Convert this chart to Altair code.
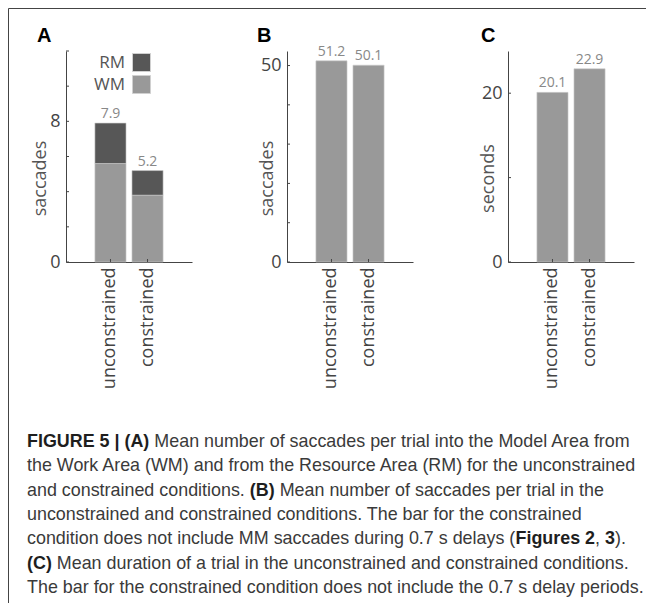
import altair as alt
import pandas as pd

# ---------------- data ----------------
conditions = ["unconstrained", "constrained"]
wm_saccades = [5.6, 3.8]      # panel A, from the Work Area (WM)
rm_saccades = [2.3, 1.4]      # panel A, from the Resource Area (RM)
all_saccades = [51.2, 50.1]   # panel B
trial_seconds = [20.1, 22.9]  # panel C

a_ticks = [0, 2, 4, 6, 8, 10, 12]
a_labels = [0, 8]
b_ticks = [0, 10, 20, 30, 40, 50]
b_labels = [0, 50]
c_ticks = [0, 10, 20]
c_labels = [0, 20]

caption_lines = [
    [("FIGURE 5 | (A)", True), (" Mean number of saccades per trial into the Model Area from", False)],
    [("the Work Area (WM) and from the Resource Area (RM) for the unconstrained", False)],
    [("and constrained conditions. ", False), ("(B)", True), (" Mean number of saccades per trial in the", False)],
    [("unconstrained and constrained conditions. The bar for the constrained", False)],
    [("condition does not include MM saccades during 0.7 s delays (", False), ("Figures 2", True),
     (", ", False), ("3", True), (").", False)],
    [("(C)", True), (" Mean duration of a trial in the unconstrained and constrained conditions.", False)],
    [("The bar for the constrained condition does not include the 0.7 s delay periods.", False)],
]

# ---------------- style ----------------
LIGHT = "#999999"
DARK = "#575757"
AXIS = "#444444"
FONT = "Open Sans"
W, H = 126, 211
CAP_SIZE = 17.9

# Helvetica/Arial advance widths (per 1000 em) used to lay out mixed-weight caption text
REG = {' ': 278, '(': 333, ')': 333, ',': 278, '.': 278, '|': 260, '0': 556, '1': 556, '2': 556, '3': 556,
       '5': 556, '7': 556, 'A': 667, 'B': 667, 'C': 722, 'F': 611, 'G': 778, 'I': 278, 'M': 833, 'R': 722,
       'T': 611, 'U': 722, 'E': 667, 'W': 944,
       'a': 556, 'b': 556, 'c': 500, 'd': 556, 'e': 556, 'f': 278, 'g': 556, 'h': 556, 'i': 222, 'j': 222,
       'k': 500, 'l': 222, 'm': 833, 'n': 556, 'o': 556, 'p': 556, 'q': 556, 'r': 333, 's': 500, 't': 278,
       'u': 556, 'v': 500, 'w': 722, 'x': 500, 'y': 500, 'z': 500}
BOLD = {' ': 278, '(': 333, ')': 333, ',': 278, '|': 280, '2': 556, '3': 556, '5': 556, 'A': 722,
        'B': 722, 'C': 722, 'E': 667, 'F': 611, 'G': 778, 'I': 278, 'R': 722, 'U': 722,
        'i': 278, 'g': 611, 'u': 611, 'r': 389, 'e': 556, 's': 556}


def text_width(s, bold):
    table = BOLD if bold else REG
    return sum(table.get(ch, 556) for ch in s) * CAP_SIZE / 1000.0


one = pd.DataFrame({"k": [0]})

xenc = alt.X("cond:N", sort=conditions, title=None,
             scale=alt.Scale(paddingInner=0.16, paddingOuter=0.78),
             axis=alt.Axis(labelAngle=-90, ticks=False, tickSize=0, labelPadding=5, domainColor=AXIS))


def yenc(field, ymax, labels, title, title_x, **kw):
    return alt.Y(field, scale=alt.Scale(domain=[0, ymax], nice=False, zero=True),
                 axis=alt.Axis(values=labels, ticks=False, tickSize=0, labelPadding=6, grid=False,
                               title=title, titleX=title_x, titleY=127, titleBaseline="middle",
                               titleAngle=-90, domainColor=AXIS), **kw)


def tick_layers(ticks, ymax, labels, title, title_x):
    # MATLAB-style inward ticks on both axes
    ytk = alt.Chart(pd.DataFrame({"t": ticks})).mark_rule(color=AXIS, strokeWidth=1).encode(
        y=yenc("t:Q", ymax, labels, title, title_x), x=alt.value(0), x2=alt.value(3))
    xtk = alt.Chart(pd.DataFrame({"cond": conditions})).mark_rule(color=AXIS, strokeWidth=1).encode(
        x=xenc, y=alt.value(H), y2=alt.value(H - 3))
    return [ytk, xtk]


def letter_layer(letter, dx):
    return alt.Chart(one).mark_text(text=letter, font="Liberation Sans", fontWeight="bold", fontSize=20,
                                    align="left", baseline="alphabetic", color="#000000").encode(
        x=alt.value(dx), y=alt.value(-9))


# ---------------- panel A ----------------
a_rows = []
for i, c in enumerate(conditions):
    a_rows.append({"cond": c, "part": "WM", "value": wm_saccades[i], "ord": 0})
    a_rows.append({"cond": c, "part": "RM", "value": rm_saccades[i], "ord": 1})
a_df = pd.DataFrame(a_rows)
a_tot = pd.DataFrame({"cond": conditions,
                      "total": [w + r for w, r in zip(wm_saccades, rm_saccades)]})

a_bars = alt.Chart(a_df).mark_bar(stroke="#cfcfcf", strokeWidth=0.6).encode(
    x=xenc,
    y=yenc("value:Q", 12, a_labels, "saccades", -26, stack="zero"),
    color=alt.Color("part:N", scale=alt.Scale(domain=["RM", "WM"], range=[DARK, LIGHT]),
                    legend=alt.Legend(title=None, orient="none", legendX=66, legendY=2, symbolType="square",
                                      symbolSize=324, symbolOpacity=1, symbolStrokeColor="#d0d0d0",
                                      symbolStrokeWidth=1, labelOffset=alt.ExprRef(expr="-26"),
                                      labelAlign="right",
                                      labelFont=FONT, labelFontSize=17, labelColor="#555555",
                                      rowPadding=alt.ExprRef(expr="-1"), padding=0)),
    order=alt.Order("ord:Q"),
)
a_text = alt.Chart(a_tot).mark_text(baseline="alphabetic", dy=-5, fontSize=14, font=FONT,
                                    color="#888888").encode(
    x=xenc, y=yenc("total:Q", 12, a_labels, "saccades", -26), text=alt.Text("total:Q", format=".1f"))

# frame (left and top rule of the figure box), positioned relative to panel A
frame_left = alt.Chart(one).mark_rule(color="#444444", strokeWidth=1).encode(
    x=alt.value(-57.5), y=alt.value(-42.5), y2=alt.value(552))
frame_top = alt.Chart(one).mark_rule(color="#444444", strokeWidth=1).encode(
    x=alt.value(-57.5), x2=alt.value(580), y=alt.value(-42.5))

cap_layers = []
for li, segs in enumerate(caption_lines):
    xpos = -39.0
    for s, bold in segs:
        lead = len(s) - len(s.lstrip(" "))
        xpos += text_width(" " * lead, bold)
        body = s.strip(" ")
        if body:
            cap_layers.append(
                alt.Chart(one).mark_text(text=body, font="Liberation Sans", fontSize=CAP_SIZE,
                                         fontWeight="bold" if bold else "normal",
                                         color="#1e1e1e" if bold else "#3a3a3a",
                                         align="left", baseline="alphabetic").encode(
                    x=alt.value(xpos), y=alt.value(396 + 24.3 * li)))
        xpos += text_width(s.lstrip(" "), bold)

panel_a = alt.layer(a_bars, a_text, *tick_layers(a_ticks, 12, a_labels, "saccades", -26),
                    letter_layer("A", -29), frame_left, frame_top, *cap_layers).properties(width=W, height=H)


# ---------------- panels B and C ----------------
def simple_panel(values, ymax, ticks, labels, title, title_x, letter, letter_dx):
    df = pd.DataFrame({"cond": conditions, "v": values})
    bars = alt.Chart(df).mark_bar(color=LIGHT, stroke="#cfcfcf", strokeWidth=0.6).encode(
        x=xenc, y=yenc("v:Q", ymax, labels, title, title_x))
    txt = alt.Chart(df).mark_text(baseline="alphabetic", dy=-5, fontSize=14, font=FONT,
                                  color="#888888").encode(
        x=xenc, y=yenc("v:Q", ymax, labels, title, title_x), text=alt.Text("v:Q", format=".1f"))
    return alt.layer(bars, txt, *tick_layers(ticks, ymax, labels, title, title_x),
                     letter_layer(letter, letter_dx)).properties(width=W, height=H)


panel_b = simple_panel(all_saccades, 53.7, b_ticks, b_labels, "saccades", -20, "B", -30)
panel_c = simple_panel(trial_seconds, 25, c_ticks, c_labels, "seconds", -20, "C", -27)

chart = alt.hconcat(panel_a, panel_b, panel_c, spacing=95, bounds="flush").properties(
    padding=0, background="white"
).configure_view(stroke=None).configure_axis(
    labelFont=FONT, labelFontSize=18, labelColor="#444444", titleFont=FONT, titleFontSize=18,
    titleColor="#555555", titleFontWeight="normal", domainWidth=1
)

chart.save("out.html", embed_options={"renderer": "svg", "actions": False})
